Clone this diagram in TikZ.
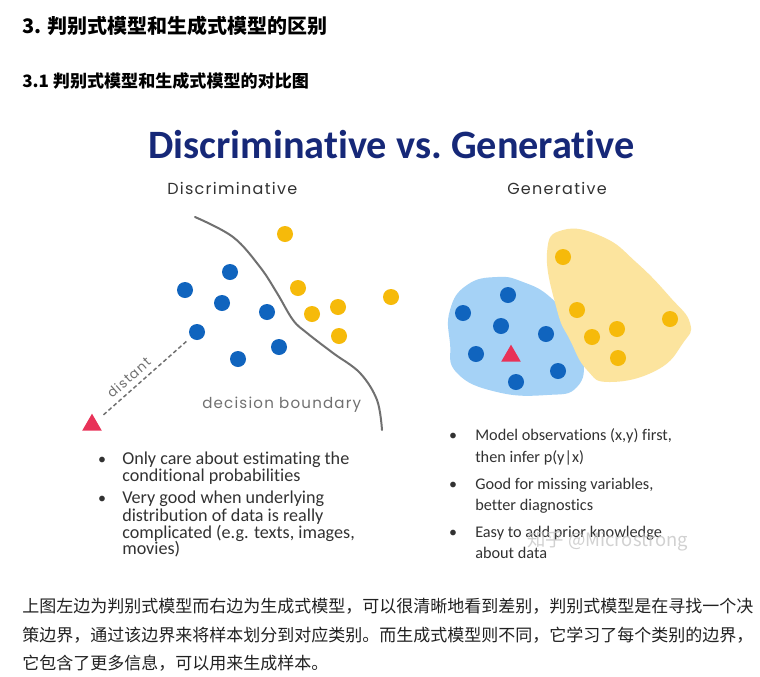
\documentclass[tikz,border=0pt]{standalone}
\usepackage{fontspec}
\setmainfont{Carlito}[Ligatures=NoCommon]
\newfontfamily\cjk{Noto Sans CJK SC}
\newfontfamily\gothic[LetterSpace=8]{Poppins}
\usetikzlibrary{positioning,shapes.geometric}

\definecolor{navy}{RGB}{22,40,120}
\definecolor{dotblue}{RGB}{16,100,190}
\definecolor{dotyellow}{RGB}{246,186,10}
\definecolor{blobblue}{RGB}{165,210,246}
\definecolor{blobyellow}{RGB}{252,228,158}
\definecolor{trired}{RGB}{232,50,88}
\definecolor{linegray}{RGB}{112,112,112}
\definecolor{txtgray}{RGB}{50,50,50}

\tikzset{
  bdot/.style={circle,fill=dotblue,minimum size=12pt,inner sep=0pt},
  ydot/.style={circle,fill=dotyellow,minimum size=12pt,inner sep=0pt},
  tri/.style={regular polygon,regular polygon sides=3,fill=trired,minimum size=17pt,inner sep=0pt},
  leftline/.style={anchor=base west,inner sep=0pt,text=txtgray,font=\fontsize{13.6}{13.6}\selectfont},
  rightline/.style={anchor=base west,inner sep=0pt,text=txtgray,font=\fontsize{12.2}{12.2}\selectfont},
  bulletdot/.style={anchor=base,inner sep=0pt,text=txtgray,font=\fontsize{12}{12}\selectfont},
  cjkline/.style={anchor=base west,inner sep=0pt,text=black!87,font=\cjk\fontsize{12.75}{12.75}\selectfont},
  gothictxt/.style={anchor=base west,inner sep=0pt,font=\gothic\fontsize{12}{12}\selectfont},
}

\begin{document}
\begin{tikzpicture}[x=0.75pt,y=-0.75pt]
\fill[white] (0,0) rectangle (760,676);
\useasboundingbox (0,0) rectangle (760,676);

% headings
\node[anchor=base west,inner sep=0pt,font=\cjk\bfseries\fontsize{15}{15}\selectfont] (head) at (22,33) {3. 判别式模型和生成式模型的区别};
\node[anchor=base west,inner sep=0pt,font=\cjk\bfseries\fontsize{12.8}{12.8}\selectfont] (subhead) at (22,87) {3.1 判别式模型和生成式模型的对比图};

% title
\node[anchor=base west,inner sep=0pt,text=navy,font=\bfseries\fontsize{30.2}{30.2}\selectfont] (title) at (148,158) {Discriminative vs.\ Generative};
\node[gothictxt,text=txtgray] (disc) at (167,194) {Discriminative};
\node[gothictxt,text=txtgray] (gen) at (507,194) {Generative};

% discriminative side
\draw[linegray,line width=1.5pt,line cap=round] plot[smooth,tension=0.6] coordinates {(195,217) (233,237) (260,267) (277,293) (293,320) (307,333) (333,353) (360,373) (377,400) (382,430)};
\node[gothictxt,text=linegray,font=\gothic\fontsize{11.3}{11.3}\selectfont] (boundary) at (202,408) {decision boundary};

\foreach \n/\x/\y in {lb1/230/272, lb2/185/290, lb3/222/303, lb4/267/312, lb5/197/332, lb6/279/347, lb7/238/359}
  \node[bdot] (\n) at (\x,\y) {};
\foreach \n/\x/\y in {ly1/285/234, ly2/298/288, ly3/312/314, ly4/338/307, ly5/339/336, ly6/391/297}
  \node[ydot] (\n) at (\x,\y) {};

\node[tri] (lquery) at (92,425) {};
\draw[linegray,line width=1.1pt,dash pattern=on 3pt off 2pt,shorten <=7pt,shorten >=4pt] (lquery) -- (lb5)
  node[pos=0.42,sloped,above=4pt,inner sep=0pt,font=\gothic\fontsize{10}{10}\selectfont,text=linegray] (dist) {distant};

% generative side
\fill[blobblue] plot[smooth cycle,tension=0.8] coordinates {(450,310) (467,285) (497,277) (523,282) (550,297) (570,323) (583,357) (577,387) (547,395) (497,392) (457,373) (450,343)};
\fill[blobyellow] plot[smooth cycle,tension=0.8] coordinates {(563,230) (547,253) (557,310) (570,340) (587,370) (610,382) (657,370) (683,343) (690,323) (670,297) (637,263) (603,237)};

\foreach \n/\x/\y in {rb1/508/295, rb2/463/313, rb3/501/326, rb4/546/334, rb5/476/354, rb6/558/371, rb7/516/382}
  \node[bdot] (\n) at (\x,\y) {};
\foreach \n/\x/\y in {ry1/563/257, ry2/577/310, ry3/592/337, ry4/617/329, ry5/670/319, ry6/618/358}
  \node[ydot] (\n) at (\x,\y) {};
\node[tri] (rquery) at (511,356) {};

% bullets, left
\node[bulletdot] (lbul1) at (102,464) {•};
\node[leftline] (l1a) at (122,464) {Only care about estimating the};
\node[leftline] (l1b) at (122,481) {conditional probabilities};
\node[bulletdot] (lbul2) at (102,503) {•};
\node[leftline] (l2a) at (122,503) {Very good when underlying};
\node[leftline] (l2b) at (122,521) {distribution of data is really};
\node[leftline] (l2c) at (122,538) {complicated (e.g. texts, images,};
\node[leftline] (l2d) at (122,554) {movies)};

% bullets, right
\node[bulletdot] (rbul1) at (453,440) {•};
\node[rightline] (r1a) at (475,440) {Model observations (x,y) first,};
\node[rightline] (r1b) at (475,462) {then infer p(y|x)};
\node[bulletdot] (rbul2) at (453,489) {•};
\node[rightline] (r2a) at (475,489) {Good for missing variables,};
\node[rightline] (r2b) at (475,510) {better diagnostics};
\node[bulletdot] (rbul3) at (453,537) {•};
\node[rightline] (r3a) at (475,537) {Easy to add prior knowledge};
\node[rightline] (r3b) at (475,558) {about data};

\node[anchor=base west,inner sep=0pt,text=gray!45,opacity=0.8,font=\cjk\fontsize{13.8}{13.8}\selectfont] (mark) at (527,546) {知乎 @Microstrong};

% text below
\node[cjkline] (p1) at (22,612) {上图左边为判别式模型而右边为生成式模型，可以很清晰地看到差别，判别式模型是在寻找一个决};
\node[cjkline] (p2) at (22,641) {策边界，通过该边界来将样本划分到对应类别。而生成式模型则不同，它学习了每个类别的边界，};
\node[cjkline] (p3) at (22,669) {它包含了更多信息，可以用来生成样本。};
\end{tikzpicture}
\end{document}
